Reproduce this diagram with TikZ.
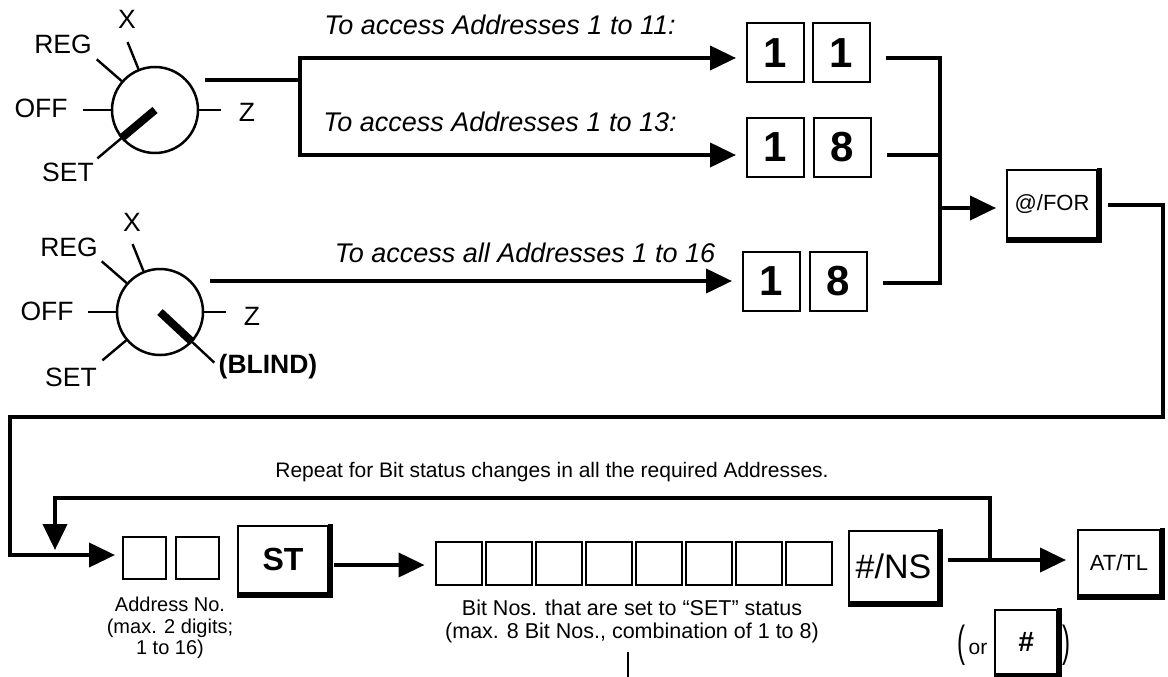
\documentclass[tikz,border=0pt]{standalone}
\usepackage{fontspec}
\setmainfont{Liberation Sans}
\usetikzlibrary{arrows.meta,calc}
\begin{document}
\begin{tikzpicture}[x=1pt,y=-1pt,
  conn/.style={line width=4pt},
  arr/.style={-{Triangle[length=26pt,width=24pt]}},
  numkey/.style={draw, line width=2pt, minimum width=57pt, minimum height=59pt, inner sep=0pt, font=\fontsize{42}{42}\selectfont\bfseries},
  blank/.style={draw, line width=2pt, minimum width=43pt, minimum height=42pt, inner sep=0pt},
  bitbox/.style={draw, line width=2pt, minimum width=46pt, minimum height=43pt, inner sep=0pt},
  keybox/.style={draw, line width=2pt, inner sep=0pt},
  dial/.style={circle, draw, line width=2.5pt, minimum size=86pt, inner sep=0pt},
  tick/.style={line width=2.4pt},
  needle/.style={line width=8pt},
  dlabel/.style={font=\fontsize{26.5}{26.5}\selectfont, inner sep=0pt},
  ital/.style={font=\fontsize{27}{27}\selectfont\itshape, inner sep=0pt, anchor=base},
  small/.style={align=center, inner sep=0pt},
]
\fill[white] (0,0) rectangle (1168,677);
\useasboundingbox (0,0) rectangle (1168,677);

% ---------- dial 1 ----------
\node[dial] (dA) at (155,110) {};
\draw[tick] (dA.112) -- ++(-112:29);
\draw[tick] (dA.139) -- ++(-139:33);
\draw[tick] (dA.180) -- ++(-180:28);
\draw[tick] (dA.0) -- ++(0:22);
\draw[tick] (dA.220) -- ++(-220:31);
\draw[needle] (dA.center) -- (dA.220);
\node[dlabel] (dAx) at (127,19) {X};
\node[dlabel] (dAreg) at (63,44) {REG};
\node[dlabel] (dAoff) at (41,108) {OFF};
\node[dlabel] (dAz) at (247,112) {Z};
\node[dlabel] (dAset) at (68,172) {SET};

% ---------- dial 2 ----------
\node[dial] (dB) at (160,312) {};
\draw[tick] (dB.112) -- ++(-112:29);
\draw[tick] (dB.139) -- ++(-139:33);
\draw[tick] (dB.180) -- ++(-180:28);
\draw[tick] (dB.0) -- ++(0:22);
\draw[tick] (dB.220) -- ++(-220:31);
\draw[tick] (dB.-43) -- ++(43:30);
\draw[needle] (dB.center) -- (dB.-43);
\node[dlabel] (dBx) at (132,222) {X};
\node[dlabel] (dBreg) at (69,247) {REG};
\node[dlabel] (dBoff) at (47,311) {OFF};
\node[dlabel] (dBz) at (252,316) {Z};
\node[dlabel] (dBset) at (71,377) {SET};
\node[dlabel, font=\fontsize{26.5}{26.5}\selectfont\bfseries] (dBblind) at (268,367) {(BLIND)};

% ---------- number keys ----------
\node[numkey] (r1a) at (775.5,53) {1};
\node[numkey] (r1b) at (841.5,53) {1};
\node[numkey] (r2a) at (775.5,147.5) {1};
\node[numkey] (r2b) at (842,147.5) {8};
\node[numkey] (r3a) at (771.5,281.5) {1};
\node[numkey] (r3b) at (838,281.5) {8};

% ---------- texts on arrows ----------
\node[ital] (t1) at (500,35) {To access Addresses 1 to 11:};
\node[ital] (t2) at (500,131) {To access Addresses 1 to 13:};
\node[ital] (t3) at (525,262) {To access all Addresses 1 to 16};

% ---------- connectors top ----------
\coordinate (d1o) at (205,80);
\coordinate (j1) at (300,80);
\coordinate (e1) at ([xshift=-10pt,yshift=-5pt]r1a.west);
\coordinate (e2) at ([xshift=-10pt,yshift=-7.5pt]r2a.west);
\draw[conn] (d1o) -- (j1);
\draw[conn,arr] (j1) |- (e1);
\draw[conn,arr] (j1) |- (e2);

\coordinate (d2o) at (210,281);
\coordinate (e3) at ([xshift=-10pt]r3a.west);
\draw[conn,arr] (d2o) -- (d2o -| e3);

% ---------- @/FOR ----------
\node[keybox, minimum width=90pt, minimum height=68pt, font=\fontsize{22}{22}\selectfont] (for) at (1052,204) {@/FOR};
\coordinate (j2) at (940,208);
\coordinate (e4) at ([xshift=-10pt]for.west);
\draw[conn] ([xshift=15pt,yshift=-5pt]r1b.east) -| (j2);
\draw[conn] ([xshift=15pt,yshift=-7.5pt]r2b.east) -| (j2);
\draw[conn] ([xshift=15pt,yshift=-1.5pt]r3b.east) -| (j2);
\draw[conn,arr] (j2) -- (j2 -| e4);

% ---------- bottom row ----------
\node[blank] (a1) at (144.5,557.5) {};
\node[blank] (a2) at (197.5,557.5) {};
\node[keybox, minimum width=90pt, minimum height=67pt, font=\fontsize{32}{32}\selectfont\bfseries] (st) at (283,559.5) {ST};
\foreach \i in {1,...,8} \node[bitbox] (b\i) at ({458.5+50*(\i-1)},563.5) {};
\node[keybox, minimum width=89pt, minimum height=71pt, font=\fontsize{34}{34}\selectfont] (ns) at (893.5,566.5) {\#/NS};
\node[keybox, minimum width=82pt, minimum height=65pt, font=\fontsize{22}{22}\selectfont] (attl) at (1119,562.5) {AT/TL};
\node[keybox, minimum width=62pt, minimum height=64pt, font=\fontsize{28}{28}\selectfont\bfseries\itshape] (hk) at (1026,642) {\#};

% key shadows
\foreach \n in {for,st,ns,attl,hk}
  \draw[line width=5pt] ([xshift=1.5pt,yshift=1pt]\n.north east) -- ([xshift=1.5pt,yshift=-1.5pt]\n.south east) -- ([yshift=-1.5pt]\n.south west);

% big loop from @/FOR to address
\coordinate (c2) at (1163,417);
\coordinate (c3) at (10,417);
\coordinate (t5) at (115,555);
\draw[conn,arr] ([xshift=10pt,yshift=-1pt]for.east) -| (c2) -- (c3) |- (t5);

% ST to bits
\draw[conn,arr] ([xshift=5pt,yshift=-5.5pt]st.east) -- ([xshift=-10pt,yshift=-1.5pt]b1.west);

% #/NS to AT/TL and repeat loop
\draw[conn,arr] ([xshift=9pt,yshift=6.5pt]ns.east) -- ([xshift=-11pt,yshift=2.5pt]attl.west);
\coordinate (k1) at (990,560);
\coordinate (k2) at (55,498);
\coordinate (k3) at (55,550);
\draw[conn,arr] (k1) |- (k2) -- (k3);

% ---------- texts bottom ----------
\node[small, font=\fontsize{21}{21}\selectfont] (rep) at (552,472) {Repeat for Bit status changes in all the required Addresses.};
\node[small, font=\fontsize{20}{21.5}\selectfont] (addr) at (170,628) {Address No.\\(max. 2 digits;\\1 to 16)};
\node[small, font=\fontsize{21.5}{23}\selectfont] (bits) at (632,621) {Bit Nos. that are set to “SET” status\\(max. 8 Bit Nos., combination of 1 to 8)};

\node[inner sep=0pt, font=\fontsize{30}{30}\selectfont] (lp) at (961,645) {\scalebox{0.8}[1.45]{(}};
\node[inner sep=0pt, font=\fontsize{21}{21}\selectfont] (or) at (978,649) {or};
\node[inner sep=0pt, font=\fontsize{30}{30}\selectfont] (rp) at (1066,645) {\scalebox{0.8}[1.45]{)}};

\draw[line width=2pt] (628,652) -- (628,677);
\end{tikzpicture}
\end{document}
